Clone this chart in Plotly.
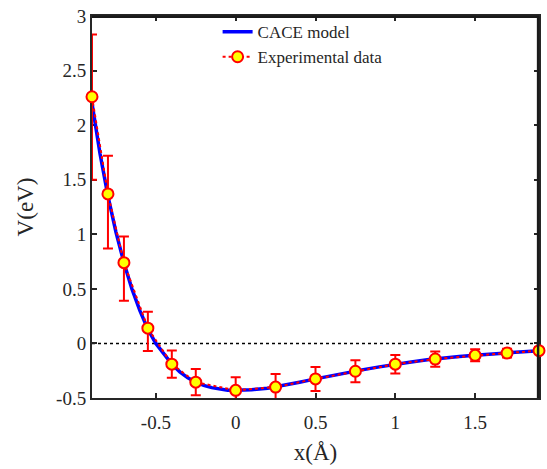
import plotly.graph_objects as go

# CACE model curve
model_x = [-0.9, -0.85, -0.8, -0.75, -0.7, -0.65, -0.6, -0.55, -0.5, -0.45, -0.4, -0.35, -0.3, -0.25,
           -0.2, -0.15, -0.1, -0.05, 0.0, 0.1, 0.2, 0.3, 0.4, 0.5, 0.6, 0.7, 0.8, 0.9, 1.0, 1.1, 1.2,
           1.3, 1.4, 1.5, 1.6, 1.7, 1.8, 1.9]
model_v = [2.2, 1.74, 1.35, 1.02, 0.74, 0.5, 0.3, 0.13, 0.0, -0.1, -0.19, -0.26, -0.315, -0.355,
           -0.385, -0.405, -0.42, -0.428, -0.43, -0.425, -0.41, -0.385, -0.355, -0.325, -0.295, -0.265,
           -0.24, -0.215, -0.19, -0.17, -0.15, -0.133, -0.12, -0.108, -0.097, -0.087, -0.077, -0.066]

# Experimental data
exp_x = [-0.9, -0.8, -0.7, -0.55, -0.4, -0.25, 0.0, 0.25, 0.5, 0.75, 1.0, 1.25, 1.5, 1.7, 1.9]
exp_v = [2.26, 1.37, 0.74, 0.14, -0.19, -0.355, -0.43, -0.40, -0.325, -0.255, -0.19, -0.143, -0.109, -0.088, -0.066]
err_plus = [0.57, 0.35, 0.24, 0.15, 0.125, 0.12, 0.12, 0.12, 0.11, 0.1, 0.085, 0.07, 0.055, 0.04, 0.03]
err_minus = [0.76, 0.5, 0.35, 0.21, 0.125, 0.12, 0.12, 0.12, 0.11, 0.1, 0.085, 0.07, 0.055, 0.04, 0.03]

x_ticks = [-0.5, 0, 0.5, 1, 1.5]
x_labels = ["-0.5", "0", "0.5", "1", "1.5"]
y_ticks = [-0.5, 0, 0.5, 1, 1.5, 2, 2.5, 3]
y_labels = ["-0.5", "0", "0.5", "1", "1.5", "2", "2.5", "3"]

FONT = "Liberation Serif"
AX = "#262626"

fig = go.Figure()
fig.add_trace(go.Scatter(x=model_x, y=model_v, mode="lines", name="CACE model",
                         line=dict(color="#0000ff", width=3.5), cliponaxis=False))
fig.add_trace(go.Scatter(x=exp_x, y=exp_v, mode="lines+markers", name="Experimental data",
                         line=dict(color="#ff0000", width=2, dash="dot"), cliponaxis=False,
                         marker=dict(color="#ffff00", size=11, line=dict(color="#ff0000", width=2)),
                         error_y=dict(type="data", symmetric=False, array=err_plus, arrayminus=err_minus,
                                      color="#ff0000", thickness=2, width=5)))

fig.add_shape(type="line", xref="paper", yref="y", x0=0, x1=1, y0=0, y1=0,
              line=dict(color="black", width=1.5, dash="dot"), layer="below")
# frame: top and right edges, drawn just inside the plot area
fig.add_shape(type="line", xref="paper", yref="paper", x0=0, x1=1, y0=0.998, y1=0.998,
              line=dict(color="#1a1a1a", width=2.5), layer="above")
fig.add_shape(type="line", xref="paper", yref="paper", x0=0.998, x1=0.998, y0=0, y1=1,
              line=dict(color="#1a1a1a", width=2.5), layer="above")

fig.update_layout(
    width=547, height=469,
    margin=dict(l=92, r=6, t=12, b=71),
    paper_bgcolor="white", plot_bgcolor="white",
    font=dict(family=FONT, size=19, color=AX),
    showlegend=True,
    legend=dict(x=0.281, y=1.005, xanchor="left", yanchor="top", bgcolor="rgba(0,0,0,0)",
                font=dict(family=FONT, size=17, color=AX), tracegroupgap=0, itemwidth=30),
    xaxis=dict(range=[-0.9, 1.9], tickvals=x_ticks, ticktext=x_labels, layer="below traces",
               tickfont=dict(family=FONT, size=19, color=AX), ticklabelstandoff=6,
               ticks="inside", ticklen=5, tickwidth=1.5, tickcolor=AX,
               showline=True, linecolor=AX, linewidth=2, mirror="ticks", showgrid=False, zeroline=False,
               title=dict(text="x(Å)", font=dict(family=FONT, size=23, color=AX), standoff=12)),
    yaxis=dict(range=[-0.5, 3], tickvals=y_ticks, ticktext=y_labels, layer="below traces",
               tickfont=dict(family=FONT, size=19, color=AX),
               ticks="inside", ticklen=5, tickwidth=1.5, tickcolor=AX,
               showline=True, linecolor=AX, linewidth=2, mirror="ticks", showgrid=False, zeroline=False,
               title=dict(text="V(eV)", font=dict(family=FONT, size=23, color=AX), standoff=16)),
)

fig.write_html("out.html", config={"displayModeBar": False},
               post_script="document.body.style.margin='0';")
